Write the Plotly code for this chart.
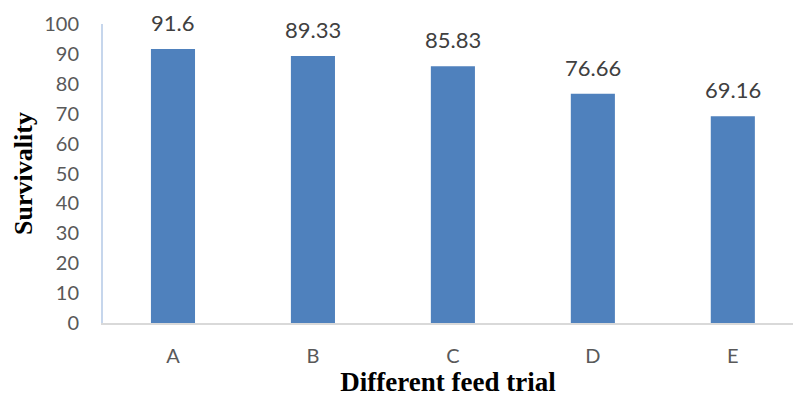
import plotly.graph_objects as go

categories = ["A", "B", "C", "D", "E"]
survivality = [91.6, 89.33, 85.83, 76.66, 69.16]
value_labels = ["91.6", "89.33", "85.83", "76.66", "69.16"]

fig = go.Figure()
fig.add_trace(go.Bar(
    x=categories,
    y=survivality,
    width=0.315,
    marker=dict(color="#4f81bd", line=dict(color="#4f81bd", width=0)),
    hoverinfo="skip",
))

for cat, val, lab in zip(categories, survivality, value_labels):
    fig.add_annotation(
        x=cat, y=val, text=lab, showarrow=False,
        yanchor="bottom", yshift=11,
        font=dict(family="Lato, Open Sans, sans-serif", size=22, color="#404040"),
    )

fig.update_layout(
    width=793, height=399,
    margin=dict(l=103, r=0, t=24, b=76),
    paper_bgcolor="white", plot_bgcolor="white",
    showlegend=False,
    xaxis=dict(
        range=[-0.5, 4.43],
        showgrid=False, zeroline=False,
        showline=True, linecolor="#d9d9d9", linewidth=2,
        ticks="", ticklabelstandoff=14,
        tickfont=dict(family="Lato, Open Sans, sans-serif", size=20, color="#595959"),
        title=dict(text="<b>Different feed trial</b>", standoff=5,
                   font=dict(family="Liberation Serif, Times New Roman, serif", size=27, color="black")),
    ),
    yaxis=dict(
        range=[0, 100], dtick=10,
        showgrid=False, zeroline=False,
        showline=True, linecolor="#c6d6ec", linewidth=2,
        ticks="", ticklabelstandoff=18,
        tickfont=dict(family="Lato, Open Sans, sans-serif", size=20, color="#595959"),
        title=dict(text="<b>Survivality</b>", standoff=4,
                   font=dict(family="Liberation Serif, Times New Roman, serif", size=26, color="black")),
    ),
)

fig.write_html("out.html")
